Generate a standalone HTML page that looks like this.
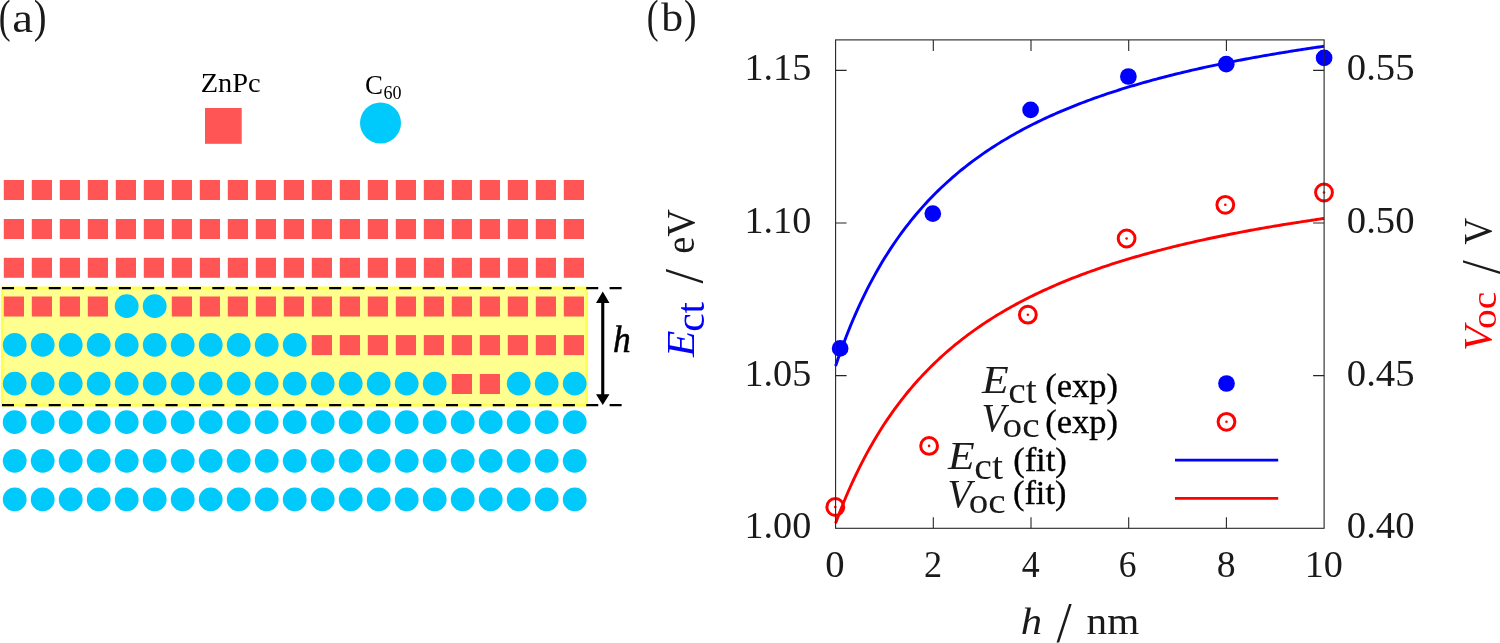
<!DOCTYPE html>
<html lang="en"><head><meta charset="utf-8"><title>Figure</title>
<style>html,body{margin:0;padding:0;background:#fff}svg{display:block;will-change:transform}</style></head>
<body>
<svg width="1500" height="643" viewBox="0 0 1500 643">
<rect x="0" y="0" width="1500" height="643" fill="#ffffff"/>
<g id="panel-a">
<rect x="2.3" y="288.0" width="584.3" height="117.15" fill="#ffff8f" stroke="#ffff4d" stroke-width="2.9"/>
<g fill="#ff5555"><rect x="3.8" y="180.0" width="20.2" height="20"/><rect x="31.8" y="180.0" width="20.2" height="20"/><rect x="59.8" y="180.0" width="20.2" height="20"/><rect x="87.8" y="180.0" width="20.2" height="20"/><rect x="115.8" y="180.0" width="20.2" height="20"/><rect x="143.8" y="180.0" width="20.2" height="20"/><rect x="171.8" y="180.0" width="20.2" height="20"/><rect x="199.8" y="180.0" width="20.2" height="20"/><rect x="227.8" y="180.0" width="20.2" height="20"/><rect x="255.8" y="180.0" width="20.2" height="20"/><rect x="283.8" y="180.0" width="20.2" height="20"/><rect x="311.8" y="180.0" width="20.2" height="20"/><rect x="339.8" y="180.0" width="20.2" height="20"/><rect x="367.8" y="180.0" width="20.2" height="20"/><rect x="395.8" y="180.0" width="20.2" height="20"/><rect x="423.8" y="180.0" width="20.2" height="20"/><rect x="451.8" y="180.0" width="20.2" height="20"/><rect x="479.8" y="180.0" width="20.2" height="20"/><rect x="507.8" y="180.0" width="20.2" height="20"/><rect x="535.8" y="180.0" width="20.2" height="20"/><rect x="563.8" y="180.0" width="20.2" height="20"/><rect x="3.8" y="219.0" width="20.2" height="20"/><rect x="31.8" y="219.0" width="20.2" height="20"/><rect x="59.8" y="219.0" width="20.2" height="20"/><rect x="87.8" y="219.0" width="20.2" height="20"/><rect x="115.8" y="219.0" width="20.2" height="20"/><rect x="143.8" y="219.0" width="20.2" height="20"/><rect x="171.8" y="219.0" width="20.2" height="20"/><rect x="199.8" y="219.0" width="20.2" height="20"/><rect x="227.8" y="219.0" width="20.2" height="20"/><rect x="255.8" y="219.0" width="20.2" height="20"/><rect x="283.8" y="219.0" width="20.2" height="20"/><rect x="311.8" y="219.0" width="20.2" height="20"/><rect x="339.8" y="219.0" width="20.2" height="20"/><rect x="367.8" y="219.0" width="20.2" height="20"/><rect x="395.8" y="219.0" width="20.2" height="20"/><rect x="423.8" y="219.0" width="20.2" height="20"/><rect x="451.8" y="219.0" width="20.2" height="20"/><rect x="479.8" y="219.0" width="20.2" height="20"/><rect x="507.8" y="219.0" width="20.2" height="20"/><rect x="535.8" y="219.0" width="20.2" height="20"/><rect x="563.8" y="219.0" width="20.2" height="20"/><rect x="3.8" y="257.8" width="20.2" height="20"/><rect x="31.8" y="257.8" width="20.2" height="20"/><rect x="59.8" y="257.8" width="20.2" height="20"/><rect x="87.8" y="257.8" width="20.2" height="20"/><rect x="115.8" y="257.8" width="20.2" height="20"/><rect x="143.8" y="257.8" width="20.2" height="20"/><rect x="171.8" y="257.8" width="20.2" height="20"/><rect x="199.8" y="257.8" width="20.2" height="20"/><rect x="227.8" y="257.8" width="20.2" height="20"/><rect x="255.8" y="257.8" width="20.2" height="20"/><rect x="283.8" y="257.8" width="20.2" height="20"/><rect x="311.8" y="257.8" width="20.2" height="20"/><rect x="339.8" y="257.8" width="20.2" height="20"/><rect x="367.8" y="257.8" width="20.2" height="20"/><rect x="395.8" y="257.8" width="20.2" height="20"/><rect x="423.8" y="257.8" width="20.2" height="20"/><rect x="451.8" y="257.8" width="20.2" height="20"/><rect x="479.8" y="257.8" width="20.2" height="20"/><rect x="507.8" y="257.8" width="20.2" height="20"/><rect x="535.8" y="257.8" width="20.2" height="20"/><rect x="563.8" y="257.8" width="20.2" height="20"/><rect x="3.8" y="296.5" width="20.2" height="20"/><rect x="31.8" y="296.5" width="20.2" height="20"/><rect x="59.8" y="296.5" width="20.2" height="20"/><rect x="87.8" y="296.5" width="20.2" height="20"/><rect x="171.8" y="296.5" width="20.2" height="20"/><rect x="199.8" y="296.5" width="20.2" height="20"/><rect x="227.8" y="296.5" width="20.2" height="20"/><rect x="255.8" y="296.5" width="20.2" height="20"/><rect x="283.8" y="296.5" width="20.2" height="20"/><rect x="311.8" y="296.5" width="20.2" height="20"/><rect x="339.8" y="296.5" width="20.2" height="20"/><rect x="367.8" y="296.5" width="20.2" height="20"/><rect x="395.8" y="296.5" width="20.2" height="20"/><rect x="423.8" y="296.5" width="20.2" height="20"/><rect x="451.8" y="296.5" width="20.2" height="20"/><rect x="479.8" y="296.5" width="20.2" height="20"/><rect x="507.8" y="296.5" width="20.2" height="20"/><rect x="535.8" y="296.5" width="20.2" height="20"/><rect x="563.8" y="296.5" width="20.2" height="20"/><rect x="311.8" y="335.1" width="20.2" height="20"/><rect x="339.8" y="335.1" width="20.2" height="20"/><rect x="367.8" y="335.1" width="20.2" height="20"/><rect x="395.8" y="335.1" width="20.2" height="20"/><rect x="423.8" y="335.1" width="20.2" height="20"/><rect x="451.8" y="335.1" width="20.2" height="20"/><rect x="479.8" y="335.1" width="20.2" height="20"/><rect x="507.8" y="335.1" width="20.2" height="20"/><rect x="535.8" y="335.1" width="20.2" height="20"/><rect x="563.8" y="335.1" width="20.2" height="20"/><rect x="451.8" y="374.0" width="20.2" height="20"/><rect x="479.8" y="374.0" width="20.2" height="20"/><rect x="205" y="108" width="36.7" height="35.8"/></g>
<g fill="#00c9fb"><circle cx="126.7" cy="306.2" r="11.9"/><circle cx="154.7" cy="306.2" r="11.9"/><circle cx="14.7" cy="344.9" r="11.9"/><circle cx="42.7" cy="344.9" r="11.9"/><circle cx="70.7" cy="344.9" r="11.9"/><circle cx="98.7" cy="344.9" r="11.9"/><circle cx="126.7" cy="344.9" r="11.9"/><circle cx="154.7" cy="344.9" r="11.9"/><circle cx="182.7" cy="344.9" r="11.9"/><circle cx="210.7" cy="344.9" r="11.9"/><circle cx="238.7" cy="344.9" r="11.9"/><circle cx="266.7" cy="344.9" r="11.9"/><circle cx="294.7" cy="344.9" r="11.9"/><circle cx="14.7" cy="383.6" r="11.9"/><circle cx="42.7" cy="383.6" r="11.9"/><circle cx="70.7" cy="383.6" r="11.9"/><circle cx="98.7" cy="383.6" r="11.9"/><circle cx="126.7" cy="383.6" r="11.9"/><circle cx="154.7" cy="383.6" r="11.9"/><circle cx="182.7" cy="383.6" r="11.9"/><circle cx="210.7" cy="383.6" r="11.9"/><circle cx="238.7" cy="383.6" r="11.9"/><circle cx="266.7" cy="383.6" r="11.9"/><circle cx="294.7" cy="383.6" r="11.9"/><circle cx="322.7" cy="383.6" r="11.9"/><circle cx="350.7" cy="383.6" r="11.9"/><circle cx="378.7" cy="383.6" r="11.9"/><circle cx="406.7" cy="383.6" r="11.9"/><circle cx="434.7" cy="383.6" r="11.9"/><circle cx="518.7" cy="383.6" r="11.9"/><circle cx="546.7" cy="383.6" r="11.9"/><circle cx="574.7" cy="383.6" r="11.9"/><circle cx="14.7" cy="422.2" r="11.9"/><circle cx="42.7" cy="422.2" r="11.9"/><circle cx="70.7" cy="422.2" r="11.9"/><circle cx="98.7" cy="422.2" r="11.9"/><circle cx="126.7" cy="422.2" r="11.9"/><circle cx="154.7" cy="422.2" r="11.9"/><circle cx="182.7" cy="422.2" r="11.9"/><circle cx="210.7" cy="422.2" r="11.9"/><circle cx="238.7" cy="422.2" r="11.9"/><circle cx="266.7" cy="422.2" r="11.9"/><circle cx="294.7" cy="422.2" r="11.9"/><circle cx="322.7" cy="422.2" r="11.9"/><circle cx="350.7" cy="422.2" r="11.9"/><circle cx="378.7" cy="422.2" r="11.9"/><circle cx="406.7" cy="422.2" r="11.9"/><circle cx="434.7" cy="422.2" r="11.9"/><circle cx="462.7" cy="422.2" r="11.9"/><circle cx="490.7" cy="422.2" r="11.9"/><circle cx="518.7" cy="422.2" r="11.9"/><circle cx="546.7" cy="422.2" r="11.9"/><circle cx="574.7" cy="422.2" r="11.9"/><circle cx="14.7" cy="460.8" r="11.9"/><circle cx="42.7" cy="460.8" r="11.9"/><circle cx="70.7" cy="460.8" r="11.9"/><circle cx="98.7" cy="460.8" r="11.9"/><circle cx="126.7" cy="460.8" r="11.9"/><circle cx="154.7" cy="460.8" r="11.9"/><circle cx="182.7" cy="460.8" r="11.9"/><circle cx="210.7" cy="460.8" r="11.9"/><circle cx="238.7" cy="460.8" r="11.9"/><circle cx="266.7" cy="460.8" r="11.9"/><circle cx="294.7" cy="460.8" r="11.9"/><circle cx="322.7" cy="460.8" r="11.9"/><circle cx="350.7" cy="460.8" r="11.9"/><circle cx="378.7" cy="460.8" r="11.9"/><circle cx="406.7" cy="460.8" r="11.9"/><circle cx="434.7" cy="460.8" r="11.9"/><circle cx="462.7" cy="460.8" r="11.9"/><circle cx="490.7" cy="460.8" r="11.9"/><circle cx="518.7" cy="460.8" r="11.9"/><circle cx="546.7" cy="460.8" r="11.9"/><circle cx="574.7" cy="460.8" r="11.9"/><circle cx="14.7" cy="499.4" r="11.9"/><circle cx="42.7" cy="499.4" r="11.9"/><circle cx="70.7" cy="499.4" r="11.9"/><circle cx="98.7" cy="499.4" r="11.9"/><circle cx="126.7" cy="499.4" r="11.9"/><circle cx="154.7" cy="499.4" r="11.9"/><circle cx="182.7" cy="499.4" r="11.9"/><circle cx="210.7" cy="499.4" r="11.9"/><circle cx="238.7" cy="499.4" r="11.9"/><circle cx="266.7" cy="499.4" r="11.9"/><circle cx="294.7" cy="499.4" r="11.9"/><circle cx="322.7" cy="499.4" r="11.9"/><circle cx="350.7" cy="499.4" r="11.9"/><circle cx="378.7" cy="499.4" r="11.9"/><circle cx="406.7" cy="499.4" r="11.9"/><circle cx="434.7" cy="499.4" r="11.9"/><circle cx="462.7" cy="499.4" r="11.9"/><circle cx="490.7" cy="499.4" r="11.9"/><circle cx="518.7" cy="499.4" r="11.9"/><circle cx="546.7" cy="499.4" r="11.9"/><circle cx="574.7" cy="499.4" r="11.9"/><circle cx="380.5" cy="123" r="20.5"/></g>
<g stroke="#000000" stroke-width="2.3" stroke-dasharray="12 11.37" fill="none"><line x1="2" y1="288.1" x2="622" y2="288.1"/><line x1="2" y1="405.1" x2="622" y2="405.1"/></g>
<line x1="602.75" y1="300" x2="602.75" y2="397" stroke="#000" stroke-width="3.1"/>
<path d="M602.75 291.5 L609.5 303 L596 303 Z M602.75 404.9 L609.5 394.2 L596 394.2 Z" fill="#000"/>
<text font-family="'Liberation Serif', serif" fill="#000" stroke="#000" stroke-width="0.55"><tspan x="613.04" y="351.65" font-size="38.68" textLength="17.71" lengthAdjust="spacingAndGlyphs" font-style="italic">h</tspan></text>
<text font-family="'Liberation Serif', serif" fill="#000"><tspan x="200.72" y="91.82" font-size="27.83" textLength="59.96" lengthAdjust="spacingAndGlyphs">ZnPc</tspan></text>
<text font-family="'Liberation Serif', serif" fill="#000"><tspan x="364.91" y="94.11" font-size="28.07" textLength="17.97" lengthAdjust="spacingAndGlyphs">C</tspan><tspan x="383.49" y="99.37" font-size="18.04" textLength="18.03" lengthAdjust="spacingAndGlyphs">60</tspan></text>
<text font-family="'Liberation Serif', serif" fill="#1a1a1a"><tspan x="-1.36" y="31.91" font-size="45.88" textLength="11.84" lengthAdjust="spacingAndGlyphs">(</tspan><tspan x="12.29" y="31.62" font-size="40.00" textLength="20.76" lengthAdjust="spacingAndGlyphs">a</tspan><tspan x="33.85" y="31.91" font-size="45.88" textLength="12.79" lengthAdjust="spacingAndGlyphs">)</tspan></text>
</g>
<g id="panel-b">
<text font-family="'Liberation Serif', serif" fill="#1a1a1a"><tspan x="646.64" y="31.56" font-size="45.67" textLength="11.84" lengthAdjust="spacingAndGlyphs">(</tspan><tspan x="661.25" y="31.31" font-size="41.04" textLength="21.87" lengthAdjust="spacingAndGlyphs">b</tspan><tspan x="684.07" y="31.56" font-size="45.67" textLength="12.54" lengthAdjust="spacingAndGlyphs">)</tspan></text>
<path d="M835.60 365.97 L838.04 358.79 L840.49 351.87 L842.93 345.18 L845.37 338.71 L847.81 332.45 L850.25 326.40 L852.70 320.53 L855.14 314.85 L857.58 309.35 L860.02 304.01 L862.47 298.83 L864.91 293.80 L867.35 288.92 L869.80 284.18 L872.24 279.57 L874.68 275.09 L877.12 270.73 L879.57 266.49 L882.01 262.36 L884.45 258.34 L886.89 254.42 L889.34 250.61 L891.78 246.89 L894.22 243.27 L896.66 239.73 L899.11 236.28 L901.55 232.91 L903.99 229.63 L906.43 226.42 L908.88 223.28 L911.32 220.22 L913.76 217.23 L916.20 214.30 L918.64 211.44 L921.09 208.64 L923.53 205.90 L925.97 203.23 L928.41 200.60 L930.86 198.04 L933.30 195.52 L935.74 193.06 L938.18 190.65 L940.63 188.29 L943.07 185.97 L945.51 183.70 L947.96 181.48 L950.40 179.30 L952.84 177.16 L955.28 175.06 L957.73 173.00 L960.17 170.98 L962.61 169.00 L965.05 167.05 L967.50 165.14 L969.94 163.26 L972.38 161.41 L974.82 159.60 L977.26 157.82 L979.71 156.07 L982.15 154.36 L984.59 152.67 L987.03 151.01 L989.48 149.37 L991.92 147.77 L994.36 146.19 L996.81 144.64 L999.25 143.11 L1001.69 141.61 L1004.13 140.13 L1006.58 138.67 L1009.02 137.24 L1011.46 135.83 L1013.90 134.44 L1016.35 133.07 L1018.79 131.72 L1021.23 130.40 L1023.67 129.09 L1026.12 127.81 L1028.56 126.54 L1031.00 125.29 L1033.44 124.06 L1035.88 122.85 L1038.33 121.65 L1040.77 120.47 L1043.21 119.31 L1045.65 118.17 L1048.10 117.04 L1050.54 115.92 L1052.98 114.82 L1055.42 113.74 L1057.87 112.67 L1060.31 111.62 L1062.75 110.58 L1065.19 109.55 L1067.64 108.54 L1070.08 107.54 L1072.52 106.56 L1074.96 105.58 L1077.41 104.62 L1079.85 103.67 L1082.29 102.74 L1084.73 101.81 L1087.18 100.90 L1089.62 100.00 L1092.06 99.11 L1094.51 98.23 L1096.95 97.36 L1099.39 96.50 L1101.83 95.65 L1104.28 94.82 L1106.72 93.99 L1109.16 93.17 L1111.60 92.36 L1114.05 91.57 L1116.49 90.78 L1118.93 90.00 L1121.37 89.23 L1123.82 88.47 L1126.26 87.71 L1128.70 86.97 L1131.14 86.23 L1133.59 85.50 L1136.03 84.78 L1138.47 84.07 L1140.91 83.37 L1143.36 82.67 L1145.80 81.98 L1148.24 81.30 L1150.68 80.63 L1153.12 79.96 L1155.57 79.30 L1158.01 78.65 L1160.45 78.00 L1162.89 77.37 L1165.34 76.73 L1167.78 76.11 L1170.22 75.49 L1172.66 74.88 L1175.11 74.27 L1177.55 73.67 L1179.99 73.08 L1182.43 72.49 L1184.88 71.91 L1187.32 71.33 L1189.76 70.76 L1192.20 70.19 L1194.65 69.63 L1197.09 69.08 L1199.53 68.53 L1201.97 67.99 L1204.42 67.45 L1206.86 66.92 L1209.30 66.39 L1211.74 65.87 L1214.19 65.35 L1216.63 64.84 L1219.07 64.33 L1221.51 63.83 L1223.96 63.33 L1226.40 62.83 L1228.84 62.34 L1231.28 61.86 L1233.73 61.38 L1236.17 60.90 L1238.61 60.43 L1241.05 59.96 L1243.50 59.50 L1245.94 59.04 L1248.38 58.59 L1250.82 58.13 L1253.27 57.69 L1255.71 57.24 L1258.15 56.81 L1260.60 56.37 L1263.04 55.94 L1265.48 55.51 L1267.92 55.09 L1270.37 54.66 L1272.81 54.25 L1275.25 53.83 L1277.69 53.42 L1280.13 53.02 L1282.58 52.61 L1285.02 52.21 L1287.46 51.82 L1289.90 51.42 L1292.35 51.03 L1294.79 50.65 L1297.23 50.26 L1299.67 49.88 L1302.12 49.50 L1304.56 49.13 L1307.00 48.76 L1309.44 48.39 L1311.89 48.02 L1314.33 47.66 L1316.77 47.30 L1319.21 46.95 L1321.66 46.59 L1324.10 46.24" fill="none" stroke="#0000ff" stroke-width="2.9" stroke-linejoin="round"/>
<path d="M835.60 523.14 L838.04 516.62 L840.49 510.31 L842.93 504.20 L845.37 498.28 L847.81 492.55 L850.25 486.99 L852.70 481.60 L855.14 476.36 L857.58 471.28 L860.02 466.35 L862.47 461.55 L864.91 456.89 L867.35 452.36 L869.80 447.95 L872.24 443.66 L874.68 439.48 L877.12 435.41 L879.57 431.45 L882.01 427.58 L884.45 423.82 L886.89 420.14 L889.34 416.56 L891.78 413.06 L894.22 409.65 L896.66 406.32 L899.11 403.06 L901.55 399.88 L903.99 396.78 L906.43 393.74 L908.88 390.77 L911.32 387.87 L913.76 385.03 L916.20 382.25 L918.64 379.53 L921.09 376.87 L923.53 374.26 L925.97 371.71 L928.41 369.21 L930.86 366.76 L933.30 364.36 L935.74 362.00 L938.18 359.70 L940.63 357.44 L943.07 355.22 L945.51 353.04 L947.96 350.91 L950.40 348.81 L952.84 346.76 L955.28 344.74 L957.73 342.76 L960.17 340.82 L962.61 338.91 L965.05 337.03 L967.50 335.19 L969.94 333.38 L972.38 331.60 L974.82 329.85 L977.26 328.13 L979.71 326.44 L982.15 324.77 L984.59 323.14 L987.03 321.53 L989.48 319.95 L991.92 318.39 L994.36 316.86 L996.81 315.36 L999.25 313.87 L1001.69 312.41 L1004.13 310.98 L1006.58 309.56 L1009.02 308.17 L1011.46 306.80 L1013.90 305.45 L1016.35 304.11 L1018.79 302.80 L1021.23 301.51 L1023.67 300.24 L1026.12 298.98 L1028.56 297.75 L1031.00 296.53 L1033.44 295.33 L1035.88 294.14 L1038.33 292.97 L1040.77 291.82 L1043.21 290.69 L1045.65 289.57 L1048.10 288.46 L1050.54 287.37 L1052.98 286.30 L1055.42 285.24 L1057.87 284.19 L1060.31 283.16 L1062.75 282.14 L1065.19 281.13 L1067.64 280.14 L1070.08 279.16 L1072.52 278.19 L1074.96 277.23 L1077.41 276.29 L1079.85 275.36 L1082.29 274.44 L1084.73 273.53 L1087.18 272.63 L1089.62 271.75 L1092.06 270.87 L1094.51 270.01 L1096.95 269.15 L1099.39 268.31 L1101.83 267.47 L1104.28 266.65 L1106.72 265.83 L1109.16 265.03 L1111.60 264.23 L1114.05 263.44 L1116.49 262.66 L1118.93 261.90 L1121.37 261.13 L1123.82 260.38 L1126.26 259.64 L1128.70 258.90 L1131.14 258.18 L1133.59 257.46 L1136.03 256.75 L1138.47 256.04 L1140.91 255.35 L1143.36 254.66 L1145.80 253.98 L1148.24 253.30 L1150.68 252.64 L1153.12 251.98 L1155.57 251.32 L1158.01 250.68 L1160.45 250.04 L1162.89 249.41 L1165.34 248.78 L1167.78 248.16 L1170.22 247.55 L1172.66 246.94 L1175.11 246.34 L1177.55 245.74 L1179.99 245.16 L1182.43 244.57 L1184.88 243.99 L1187.32 243.42 L1189.76 242.86 L1192.20 242.30 L1194.65 241.74 L1197.09 241.19 L1199.53 240.65 L1201.97 240.11 L1204.42 239.57 L1206.86 239.04 L1209.30 238.52 L1211.74 238.00 L1214.19 237.48 L1216.63 236.97 L1219.07 236.47 L1221.51 235.97 L1223.96 235.47 L1226.40 234.98 L1228.84 234.49 L1231.28 234.01 L1233.73 233.53 L1236.17 233.06 L1238.61 232.59 L1241.05 232.12 L1243.50 231.66 L1245.94 231.21 L1248.38 230.75 L1250.82 230.30 L1253.27 229.86 L1255.71 229.42 L1258.15 228.98 L1260.60 228.54 L1263.04 228.11 L1265.48 227.69 L1267.92 227.26 L1270.37 226.84 L1272.81 226.43 L1275.25 226.02 L1277.69 225.61 L1280.13 225.20 L1282.58 224.80 L1285.02 224.40 L1287.46 224.00 L1289.90 223.61 L1292.35 223.22 L1294.79 222.83 L1297.23 222.45 L1299.67 222.07 L1302.12 221.69 L1304.56 221.32 L1307.00 220.95 L1309.44 220.58 L1311.89 220.21 L1314.33 219.85 L1316.77 219.49 L1319.21 219.14 L1321.66 218.78 L1324.10 218.43" fill="none" stroke="#ff0000" stroke-width="2.9" stroke-linejoin="round"/>
<g fill="#0000ff"><circle cx="840.15" cy="348.4" r="8.35"/><circle cx="932.8" cy="213.6" r="8.35"/><circle cx="1030.6" cy="109.9" r="8.35"/><circle cx="1128.4" cy="76.5" r="8.35"/><circle cx="1226.25" cy="64.2" r="8.35"/><circle cx="1324.1" cy="57.9" r="8.35"/><circle cx="1226.5" cy="383.5" r="8.35"/></g>
<g fill="none" stroke="#ff0000" stroke-width="3"><circle cx="835.3" cy="507" r="8.4"/><circle cx="929.1" cy="445.9" r="8.4"/><circle cx="1027.85" cy="314.7" r="8.4"/><circle cx="1126.6" cy="238.5" r="8.4"/><circle cx="1225.3" cy="204.8" r="8.4"/><circle cx="1324.0" cy="192.5" r="8.4"/><circle cx="1226.5" cy="421.8" r="8.4"/></g>
<g fill="#ff0000"><circle cx="835.3" cy="507" r="1.3"/><circle cx="929.1" cy="445.9" r="1.3"/><circle cx="1027.85" cy="314.7" r="1.3"/><circle cx="1126.6" cy="238.5" r="1.3"/><circle cx="1225.3" cy="204.8" r="1.3"/><circle cx="1324.0" cy="192.5" r="1.3"/><circle cx="1226.5" cy="421.8" r="1.3"/></g>
<line x1="1175" y1="460.1" x2="1278.2" y2="460.1" stroke="#0000ff" stroke-width="2.9"/>
<line x1="1175" y1="498.4" x2="1278.2" y2="498.4" stroke="#ff0000" stroke-width="2.9"/>
<g stroke="#262626" stroke-width="1.1" fill="none">
<rect x="835.6" y="39.9" width="488.5" height="488.4"/>
<path d="M933.3 528.25 v-11 M933.3 39.9 v11 M1031.0 528.25 v-11 M1031.0 39.9 v11 M1128.7 528.25 v-11 M1128.7 39.9 v11 M1226.4 528.25 v-11 M1226.4 39.9 v11 M835.6 375.6 h11 M1324.1 375.6 h-11 M835.6 223.0 h11 M1324.1 223.0 h-11 M835.6 70.4 h11 M1324.1 70.4 h-11"/>
</g>
<g font-family="'Liberation Serif', serif" fill="#1a1a1a">
<text><tspan x="744.47" y="538.29" font-size="38.84" textLength="66.77" lengthAdjust="spacingAndGlyphs">1.00</tspan></text>
<text><tspan x="1346.84" y="538.29" font-size="38.84" textLength="67.72" lengthAdjust="spacingAndGlyphs">0.40</tspan></text>
<text><tspan x="744.47" y="385.68" font-size="38.84" textLength="66.77" lengthAdjust="spacingAndGlyphs">1.05</tspan></text>
<text><tspan x="1346.84" y="385.68" font-size="38.84" textLength="67.72" lengthAdjust="spacingAndGlyphs">0.45</tspan></text>
<text><tspan x="744.47" y="233.07" font-size="38.84" textLength="66.77" lengthAdjust="spacingAndGlyphs">1.10</tspan></text>
<text><tspan x="1346.84" y="233.07" font-size="38.84" textLength="67.72" lengthAdjust="spacingAndGlyphs">0.50</tspan></text>
<text><tspan x="744.47" y="80.47" font-size="38.84" textLength="66.77" lengthAdjust="spacingAndGlyphs">1.15</tspan></text>
<text><tspan x="1346.84" y="80.47" font-size="38.84" textLength="67.72" lengthAdjust="spacingAndGlyphs">0.55</tspan></text>
<text><tspan x="825.34" y="576.56" font-size="37.82" textLength="19.31" lengthAdjust="spacingAndGlyphs">0</tspan></text>
<text><tspan x="924.12" y="577.15" font-size="38.70" textLength="18.13" lengthAdjust="spacingAndGlyphs">2</tspan></text>
<text><tspan x="1021.69" y="577.15" font-size="38.70" textLength="17.92" lengthAdjust="spacingAndGlyphs">4</tspan></text>
<text><tspan x="1118.84" y="576.56" font-size="37.82" textLength="17.77" lengthAdjust="spacingAndGlyphs">6</tspan></text>
<text><tspan x="1216.87" y="576.56" font-size="37.82" textLength="18.86" lengthAdjust="spacingAndGlyphs">8</tspan></text>
<text><tspan x="1304.77" y="576.56" font-size="37.82" textLength="38.18" lengthAdjust="spacingAndGlyphs">10</tspan></text>
</g>
<text font-family="'Liberation Serif', serif" fill="#1a1a1a"><tspan x="1020.71" y="633.95" font-size="38.26" textLength="21.37" lengthAdjust="spacingAndGlyphs" font-style="italic">h</tspan><tspan x="1056.55" y="642.47" font-size="56.15" textLength="15.21" lengthAdjust="spacingAndGlyphs">/</tspan><tspan x="1086.61" y="633.95" font-size="36.95" textLength="52.65" lengthAdjust="spacingAndGlyphs">nm</tspan></text>
<text transform="rotate(-90)" font-family="'Liberation Serif', serif" fill="#1a1a1a"><tspan x="-357.07" y="693.75" font-size="40.38" textLength="26.39" lengthAdjust="spacingAndGlyphs" font-style="italic" fill="#0000ff">E</tspan><tspan x="-331.85" y="704.33" font-size="39.92" textLength="29.96" lengthAdjust="spacingAndGlyphs" fill="#0000ff">ct</tspan><tspan x="-283.55" y="702.09" font-size="54.84" textLength="14.62" lengthAdjust="spacingAndGlyphs">/</tspan><tspan x="-253.75" y="693.92" font-size="40.63" textLength="44.63" lengthAdjust="spacingAndGlyphs">eV</tspan></text>
<text transform="rotate(-90)" font-family="'Liberation Serif', serif" fill="#1a1a1a"><tspan x="-350.63" y="1490.92" font-size="40.63" textLength="24.55" lengthAdjust="spacingAndGlyphs" font-style="italic" fill="#ff0000">V</tspan><tspan x="-328.98" y="1496.40" font-size="35.40" textLength="37.09" lengthAdjust="spacingAndGlyphs" fill="#ff0000">oc</tspan><tspan x="-274.05" y="1499.09" font-size="55.13" textLength="13.83" lengthAdjust="spacingAndGlyphs">/</tspan><tspan x="-244.75" y="1490.92" font-size="40.63" textLength="26.83" lengthAdjust="spacingAndGlyphs">V</tspan></text>
<text font-family="'Liberation Serif', serif" fill="#1a1a1a"><tspan x="982.13" y="393.15" font-size="39.16" textLength="26.68" lengthAdjust="spacingAndGlyphs" font-style="italic">E</tspan><tspan x="1008.32" y="402.85" font-size="38.57" textLength="28.50" lengthAdjust="spacingAndGlyphs">ct</tspan><tspan fill="#000" stroke="#000" stroke-width="0.35" x="1045.37" y="396.89" font-size="33.63" textLength="72.62" lengthAdjust="spacingAndGlyphs">(exp)</tspan></text>
<text font-family="'Liberation Serif', serif" fill="#1a1a1a"><tspan x="981.62" y="431.13" font-size="39.44" textLength="23.91" lengthAdjust="spacingAndGlyphs" font-style="italic">V</tspan><tspan x="1002.52" y="436.98" font-size="36.60" textLength="37.09" lengthAdjust="spacingAndGlyphs">oc</tspan><tspan fill="#000" stroke="#000" stroke-width="0.35" x="1045.37" y="432.89" font-size="33.63" textLength="72.62" lengthAdjust="spacingAndGlyphs">(exp)</tspan></text>
<text font-family="'Liberation Serif', serif" fill="#1a1a1a"><tspan x="948.13" y="469.45" font-size="39.16" textLength="26.68" lengthAdjust="spacingAndGlyphs" font-style="italic">E</tspan><tspan x="974.31" y="479.15" font-size="38.57" textLength="28.71" lengthAdjust="spacingAndGlyphs">ct</tspan><tspan fill="#000" stroke="#000" stroke-width="0.35" x="1013.17" y="470.74" font-size="32.96" textLength="53.62" lengthAdjust="spacingAndGlyphs">(fit)</tspan></text>
<text font-family="'Liberation Serif', serif" fill="#1a1a1a"><tspan x="947.62" y="507.43" font-size="39.44" textLength="23.91" lengthAdjust="spacingAndGlyphs" font-style="italic">V</tspan><tspan x="968.73" y="513.28" font-size="36.60" textLength="36.88" lengthAdjust="spacingAndGlyphs">oc</tspan><tspan fill="#000" stroke="#000" stroke-width="0.35" x="1012.98" y="504.02" font-size="33.07" textLength="53.42" lengthAdjust="spacingAndGlyphs">(fit)</tspan></text>
</g>
</svg>
</body></html>
